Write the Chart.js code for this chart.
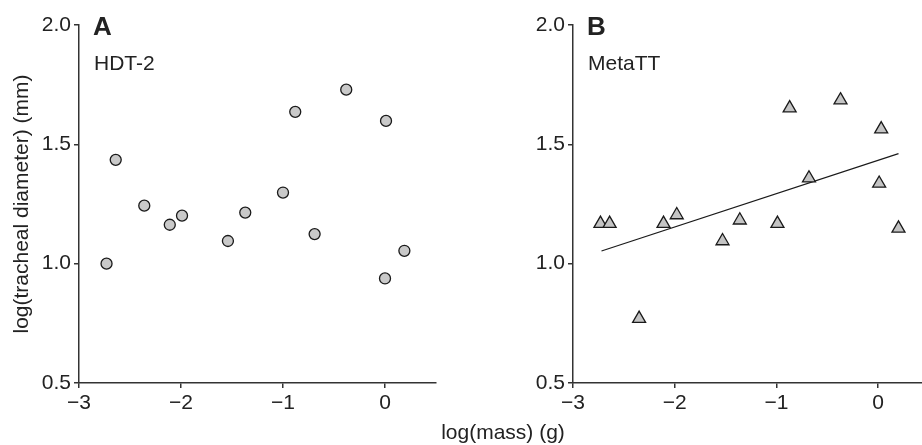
<!DOCTYPE html>
<html>
<head>
<meta charset="utf-8">
<script src="https://cdn.jsdelivr.net/npm/chart.js@4.4.0/dist/chart.umd.min.js"></script>
<style>
  html, body { margin: 0; padding: 0; background: #fff; overflow: hidden; }
  #wrap { position: relative; width: 922px; height: 445px; overflow: hidden; }
  .panel { position: absolute; top: 0; height: 445px; }
  #xTitle {
    position: absolute; left: 0; width: 1006px; top: 420px;
    text-align: center; font: 21px "Liberation Sans", Arial, sans-serif; color: #222;
  }
</style>
</head>
<body>
<div id="wrap">
  <div class="panel" style="left:0;width:460px"><canvas id="chartA"></canvas></div>
  <div class="panel" style="left:460px;width:480px"><canvas id="chartB"></canvas></div>
  <div id="xTitle">log(mass) (g)</div>
</div>
<script>
// panel A: HDT-2 (circles)
const massA = [-2.73, -2.64, -2.36, -2.11, -1.99, -1.54, -1.37, -1.00, -0.88, -0.69, -0.38, 0.01, 0.00, 0.19];
const diamA = [1.00, 1.435, 1.243, 1.163, 1.201, 1.095, 1.214, 1.298, 1.636, 1.124, 1.729, 1.598, 0.938, 1.054];

// panel B: MetaTT (triangles)
const massB = [-2.73, -2.64, -2.35, -2.11, -1.98, -1.53, -1.36, -0.99, -0.87, -0.68, -0.37, 0.03, 0.01, 0.20];
const diamB = [1.168, 1.168, 0.770, 1.168, 1.204, 1.095, 1.182, 1.168, 1.652, 1.358, 1.685, 1.564, 1.336, 1.148];

// fitted line in panel B (end points)
const fitX = [-2.72, 0.20];
const fitY = [1.053, 1.461];

const xTicks = [-3, -2, -1, 0];
const yTicks = [0.5, 1.0, 1.5, 2.0];

const FONT = '"Liberation Sans", Arial, sans-serif';
const INK = '#222';
const AXIS = '#333';

const toXY = (xs, ys) => xs.map((x, i) => ({ x, y: ys[i] }));

const panelLabels = {
    id: 'panelLabels',
    afterDraw(chart, args, opts) {
        const { ctx, chartArea } = chart;
        ctx.save();
        ctx.fillStyle = INK;
        ctx.textBaseline = 'alphabetic';
        ctx.font = 'bold 26px ' + FONT;
        ctx.fillText(opts.letter, chartArea.left + 14, 35);
        ctx.font = '21px ' + FONT;
        ctx.fillText(opts.name, chartArea.left + 15, 70);
        ctx.restore();
    },
};

function axisOptions(yTitle, yWidth) {
    const grid = { drawOnChartArea: false, drawTicks: true, tickLength: 5, color: AXIS, lineWidth: 1.5 };
    const border = { display: true, color: AXIS, width: 1.5 };
    return {
        x: {
            type: 'linear',
            min: -3,
            max: 0.5,
            grid,
            border,
            afterBuildTicks: (s) => { s.ticks = xTicks.map((v) => ({ value: v })); },
            afterFit: (s) => { s.height = 62; },
            ticks: {
                color: INK,
                padding: 3,
                font: { family: FONT, size: 21 },
                callback: (v) => (v < 0 ? '\u2212' + Math.abs(v) : String(v)),
            },
        },
        y: {
            type: 'linear',
            min: 0.5,
            max: 2.0,
            grid,
            border,
            afterBuildTicks: (s) => { s.ticks = yTicks.map((v) => ({ value: v })); },
            afterFit: (s) => { s.width = yWidth; },
            ticks: {
                color: INK,
                padding: 3,
                font: { family: FONT, size: 21 },
                callback: (v) => Number(v).toFixed(1),
            },
            title: {
                display: !!yTitle,
                text: yTitle,
                color: INK,
                padding: { top: 10, bottom: 0 },
                font: { family: FONT, size: 21 },
            },
        },
    };
}

function makeChart(canvasId, datasets, letter, name, yTitle, yWidth, padRight) {
    const ctx = document.getElementById(canvasId).getContext('2d');
    return new Chart(ctx, {
        type: 'scatter',
        data: { datasets },
        options: {
            responsive: true,
            maintainAspectRatio: false,
            animation: false,
            layout: { padding: { top: 25, left: 0, right: padRight, bottom: 0 } },
            scales: axisOptions(yTitle, yWidth),
            plugins: {
                legend: { display: false },
                tooltip: { enabled: false },
                panelLabels: { letter, name },
            },
        },
        plugins: [panelLabels],
    });
}

makeChart('chartA', [
    {
        label: 'HDT-2',
        data: toXY(massA, diamA),
        pointStyle: 'circle',
        pointRadius: 5.5,
        backgroundColor: '#c9c9c9',
        borderColor: '#1a1a1a',
        borderWidth: 1.3,
    },
], 'A', 'HDT-2', 'log(tracheal diameter) (mm)', 79, 24);

makeChart('chartB', [
    {
        label: 'MetaTT',
        data: toXY(massB, diamB),
        pointStyle: 'triangle',
        pointRadius: 7.5,
        backgroundColor: '#c4c4c4',
        borderColor: '#1a1a1a',
        borderWidth: 1.3,
    },
    {
        label: 'fit',
        data: toXY(fitX, fitY),
        showLine: true,
        pointRadius: 0,
        borderColor: '#1a1a1a',
        borderWidth: 1.2,
    },
], 'B', 'MetaTT', '', 113, 11);
</script>
</body>
</html>
